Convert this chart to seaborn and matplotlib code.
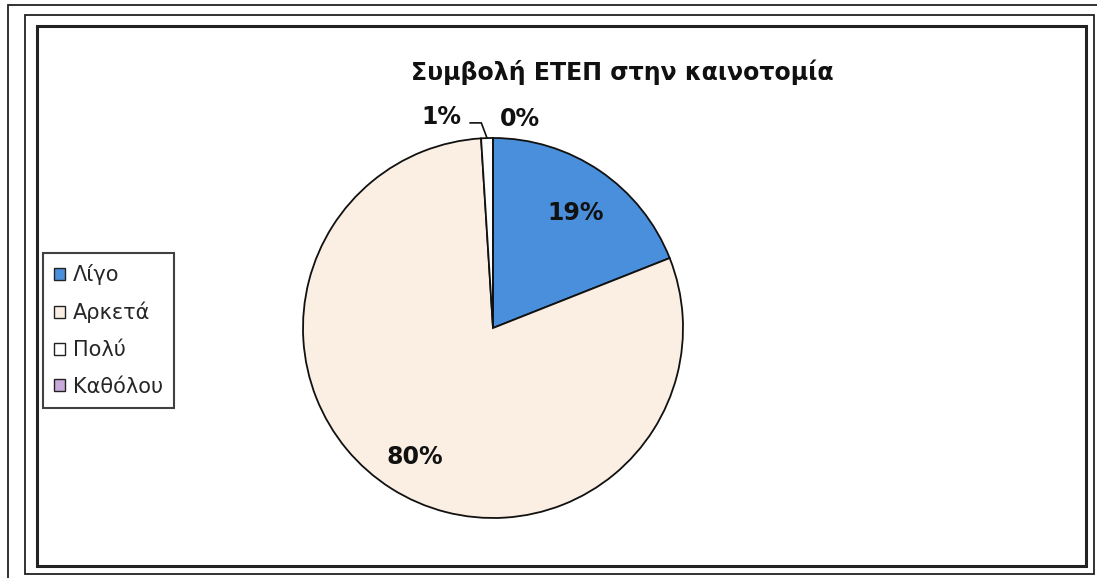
import matplotlib
matplotlib.use("Agg")
import matplotlib.pyplot as plt
from matplotlib.patches import Rectangle, Patch
import numpy as np
import seaborn as sns

sns.set_theme(style="white")
plt.rcParams['font.family'] = ['DejaVu Sans', 'Liberation Sans']

# Data
title = "Συμβολή ΕΤΕΠ στην καινοτομία"
categories = ["Λίγο", "Αρκετά", "Πολύ", "Καθόλου"]
values = [19, 80, 1, 0]
colors = ["#4A8FDB", "#FBEEE2", "#FFFFFF", "#C9A9DC"]

W, H = 1097, 578
fig = plt.figure(figsize=(W / 100, H / 100), dpi=100)
fig.patch.set_facecolor("white")

def fx(x):
    return x / W

def fy(y):
    return 1 - y / H

# Frames
def frame(x0, y0, x1, y1, lw):
    fig.patches.append(Rectangle((fx(x0), fy(y1)), fx(x1) - fx(x0), fy(y0) - fy(y1),
                                 transform=fig.transFigure, fill=False,
                                 edgecolor="#222222", linewidth=lw, zorder=0))

frame(8, 5, 1110, 590, 1.3)
frame(25, 15, 1094, 574, 1.3)
frame(37, 26, 1086, 566, 2.2)

# Pie axes: center (493, 328), radius 190 px
cx, cy, r = 493, 328, 190
ax = fig.add_axes([fx(cx - r), fy(cy + r), 2 * r / W, 2 * r / H])
wedges, _ = ax.pie(values, colors=colors, startangle=90, counterclock=False,
                   wedgeprops=dict(edgecolor="#111111", linewidth=1.3))
ax.set_xlim(-1, 1)
ax.set_ylim(-1, 1)
ax.set_aspect("equal")
ax.axis("off")

# Percentage labels
total = sum(values)
cum = np.cumsum([0] + values[:-1])
lab_kw = dict(family="DejaVu Sans", fontweight="bold", fontsize=17, color="#111111",
              ha="center", va="center")
for i, v in enumerate(values):
    mid = 90 - 360 * (cum[i] + v / 2) / total
    a = np.deg2rad(mid)
    txt = f"{round(100 * v / total)}%"
    if v / total >= 0.05:
        ax.text(0.77 * np.cos(a), 0.77 * np.sin(a) - 0.03, txt, **lab_kw)
    elif i == 2:
        ex, ey = np.cos(a), np.sin(a)
        ax.plot([ex, ex - 0.03, ex - 0.09], [ey, ey + 0.08, ey + 0.08],
                color="#111111", lw=1.2, clip_on=False)
        ax.text(ex - 0.24, ey + 0.11, txt, **lab_kw)
    else:
        ex, ey = np.cos(a), np.sin(a)
        ax.text(ex + 0.14, ey + 0.1, txt, **lab_kw)

# Title
fig.text(fx(622), fy(72), title, ha="center", va="center", fontsize=17,
         fontweight="bold", color="#111111", family="DejaVu Sans")

# Legend
handles = [Patch(facecolor=c, edgecolor="#222222", linewidth=1.0) for c in colors]
leg = fig.legend(handles, categories, loc="upper left",
                 bbox_to_anchor=(fx(43), fy(253)), bbox_transform=fig.transFigure,
                 borderaxespad=0, frameon=True, fancybox=False, fontsize=15,
                 handlelength=0.5, handleheight=0.5, handletextpad=0.4,
                 labelspacing=0.8, borderpad=0.54)
leg.get_frame().set_edgecolor("#111111")
leg.get_frame().set_linewidth(1.5)

fig.savefig("out.png", dpi=100, facecolor="white")
